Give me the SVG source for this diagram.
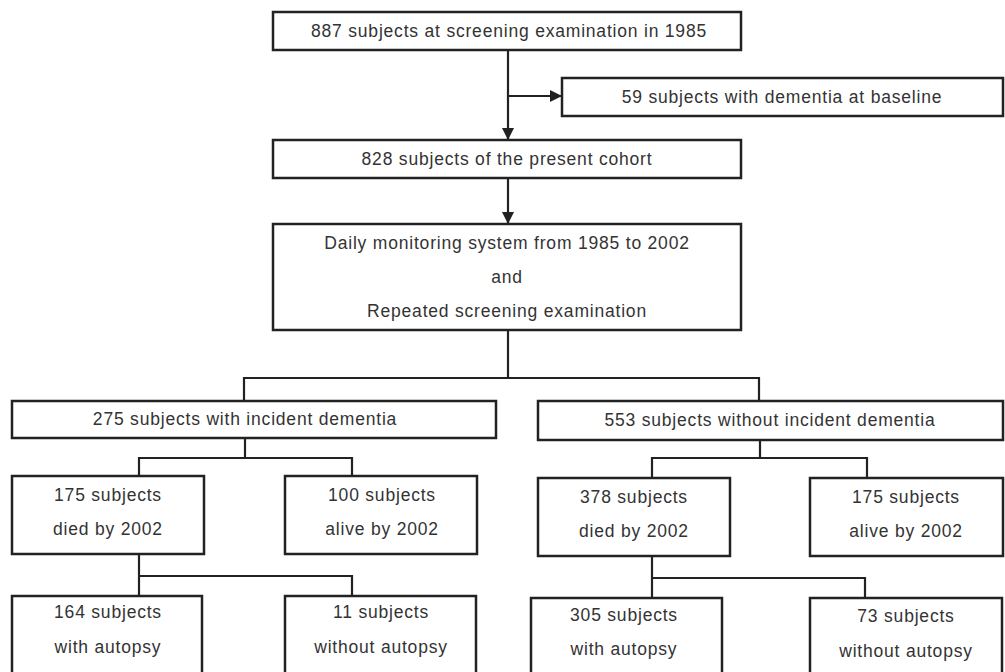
<svg xmlns="http://www.w3.org/2000/svg" width="1005" height="672" viewBox="0 0 1005 672">
<style>
rect{fill:#fff;stroke:#222;stroke-width:2.5}
text{font-family:"Liberation Sans",Arial,sans-serif;font-size:17.5px;letter-spacing:0.8px;fill:#333;text-anchor:middle;dominant-baseline:central}
.c{fill:none;stroke:#222;stroke-width:2.2}
</style>
<defs>
<marker id="ah" markerWidth="12" markerHeight="12" refX="11" refY="6" orient="auto" markerUnits="userSpaceOnUse">
<path d="M0,0 L12,6 L0,12 z" fill="#222"/>
</marker>
</defs>
<rect x="0" y="0" width="1005" height="672" style="fill:#fff;stroke:none"/>
<g id="connectors">
<path class="c" d="M508,50 V139" marker-end="url(#ah)"/>
<path class="c" d="M508,96 H561" marker-end="url(#ah)"/>
<path class="c" d="M508,178 V223" marker-end="url(#ah)"/>
<path class="c" d="M508,330 V378 M244,401 V378 H759 V401"/>
<path class="c" d="M245,438 V458 M139,476 V458 H352 V476"/>
<path class="c" d="M139,554 V576 M139,596 V576 H352 V596"/>
<path class="c" d="M760,440 V458 M652,478 V458 H867 V478"/>
<path class="c" d="M652,556 V578 M652,598 V578 H865 V598"/>
</g>
<g id="n1"><rect x="273" y="12" width="468" height="38"/><text x="509" y="31">887 subjects at screening examination in 1985</text></g>
<g id="n2"><rect x="562" y="78" width="441" height="38"/><text x="782" y="97">59 subjects with dementia at baseline</text></g>
<g id="n3"><rect x="273" y="140" width="468" height="38"/><text x="507" y="159">828 subjects of the present cohort</text></g>
<g id="n4"><rect x="273" y="224" width="468" height="106"/><text x="507" y="243">Daily monitoring system from 1985 to 2002</text><text x="507" y="277">and</text><text x="507" y="311">Repeated screening examination</text></g>
<g id="n5"><rect x="12" y="401" width="484" height="37"/><text x="245" y="419">275 subjects with incident dementia</text></g>
<g id="n6"><rect x="538" y="401" width="465" height="39"/><text x="770" y="420">553 subjects without incident dementia</text></g>
<g id="n7"><rect x="12" y="476" width="192" height="78"/><text x="108" y="495">175 subjects</text><text x="108" y="529">died by 2002</text></g>
<g id="n8"><rect x="285" y="476" width="192" height="78"/><text x="382" y="495">100 subjects</text><text x="382" y="529">alive by 2002</text></g>
<g id="n9"><rect x="538" y="478" width="192" height="78"/><text x="634" y="497">378 subjects</text><text x="634" y="531">died by 2002</text></g>
<g id="n10"><rect x="810" y="478" width="193" height="78"/><text x="906" y="497">175 subjects</text><text x="906" y="531">alive by 2002</text></g>
<g id="n11"><rect x="12" y="596" width="190" height="84"/><text x="108" y="612">164 subjects</text><text x="108" y="647">with autopsy</text></g>
<g id="n12"><rect x="285" y="596" width="191" height="84"/><text x="381" y="612">11 subjects</text><text x="381" y="647">without autopsy</text></g>
<g id="n13"><rect x="531" y="598" width="191" height="84"/><text x="624" y="615">305 subjects</text><text x="624" y="649">with autopsy</text></g>
<g id="n14"><rect x="810" y="598" width="192" height="84"/><text x="906" y="616">73 subjects</text><text x="906" y="651">without autopsy</text></g>
</svg>
